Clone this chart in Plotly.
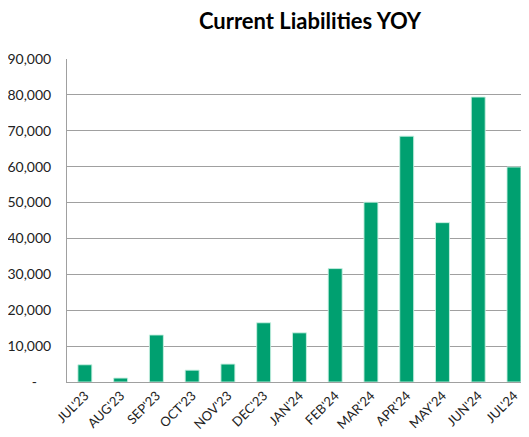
import plotly.graph_objects as go

months = ["JUL'23", "AUG'23", "SEP'23", "OCT'23", "NOV'23", "DEC'23", "JAN'24",
          "FEB'24", "MAR'24", "APR'24", "MAY'24", "JUN'24", "JUL'24"]
liabilities = [4800, 1100, 13100, 3300, 5000, 16500, 13700,
               31600, 50100, 68500, 44400, 79400, 59900]
tick_vals = [0, 10000, 20000, 30000, 40000, 50000, 60000, 70000, 80000, 90000]
tick_text = ["-\u00a0\u00a0\u00a0\u00a0", "10,000", "20,000", "30,000", "40,000", "50,000",
             "60,000", "70,000", "80,000", "90,000"]

W, H = 521, 429  # page body has an 8px default margin

fig = go.Figure(go.Bar(
    x=list(range(len(months))), y=liabilities,
    width=0.39,
    marker=dict(color="#00A070", line=dict(color="rgba(200,240,225,0.9)", width=1)),
))

fig.update_layout(
    width=W, height=H,
    margin=dict(l=59, r=0, t=51, b=55, autoexpand=False),
    paper_bgcolor="white", plot_bgcolor="white",
    font=dict(family="Lato, Carlito, sans-serif", color="#222"),
    title=dict(text="<b>Current Liabilities YOY</b>", x=302 / W, xref="container", xanchor="center",
               y=1 - 13 / H, yref="container", yanchor="middle",
               font=dict(size=22, color="#000")),
    showlegend=False,
)
fig.update_yaxes(range=[0, 90000], tickvals=tick_vals, ticktext=tick_text,
                 showgrid=True, gridcolor="#A0A0A0", gridwidth=1,
                 showline=True, linecolor="#A0A0A0", linewidth=1,
                 ticks="", ticklabelstandoff=12, tickfont=dict(size=14, color="#222"),
                 zeroline=False, automargin=False)
fig.update_xaxes(range=[-0.5, 12.42], tickvals=list(range(len(months))), ticktext=months,
                 tickangle=-45, showline=True, linecolor="#A0A0A0", linewidth=1,
                 ticks="", showgrid=False, tickfont=dict(size=13, color="#222"),
                 automargin=False)

fig.write_html("out.html")
